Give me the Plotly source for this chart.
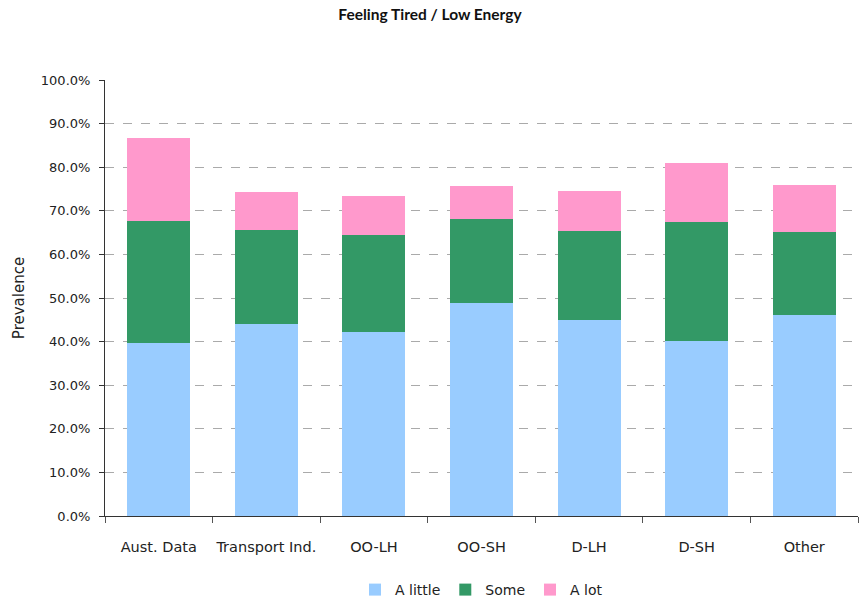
import plotly.graph_objects as go

categories = ["Aust. Data", "Transport Ind.", "OO-LH", "OO-SH", "D-LH", "D-SH", "Other"]
a_little = [0.397, 0.441, 0.422, 0.489, 0.450, 0.402, 0.461]
some = [0.280, 0.215, 0.223, 0.193, 0.204, 0.273, 0.191]
a_lot = [0.191, 0.088, 0.088, 0.076, 0.092, 0.134, 0.108]

series = [("A little", a_little, "#99CCFF"), ("Some", some, "#339966"), ("A lot", a_lot, "#FF99CC")]

fig = go.Figure()
for name, vals, col in series:
    fig.add_trace(go.Bar(x=categories, y=vals, name=name, marker=dict(color=col, line=dict(width=0)),
                         hovertemplate="%{x}: %{y:.1%}<extra>" + name + "</extra>"))

font_family = "DejaVu Sans, sans-serif"
fig.update_layout(
    barmode="stack",
    bargap=0.415,
    width=860, height=606,
    margin=dict(l=105, r=2, t=80, b=90),
    paper_bgcolor="white", plot_bgcolor="white",
    font=dict(family=font_family, size=13, color="#222"),
    title=dict(text="<b>Feeling Tired / Low Energy</b>", x=0.5, xanchor="center", y=0.985, yanchor="top",
               font=dict(family="Lato, sans-serif", size=15.5, color="#111")),
    legend=dict(orientation="h", x=0.5, xanchor="center", yref="container", y=-0.012, yanchor="bottom",
                font=dict(size=14), traceorder="normal", itemwidth=30, tracegroupgap=0),
    xaxis=dict(showline=True, linecolor="#333", linewidth=1, ticks="outside", tickson="boundaries",
               ticklen=6, tickcolor="#555", showgrid=False, tickfont=dict(size=14.5), tickangle=0,
               automargin=False, ticklabelstandoff=18),
    yaxis=dict(range=[0, 1], dtick=0.1, tickformat=".1%", showline=True, linecolor="#333", linewidth=1,
               ticks="outside", ticklen=5, tickcolor="#333", showgrid=True, gridcolor="#AAAAAA",
               griddash="dash", gridwidth=1, tickfont=dict(size=13), automargin=False,
               ticklabelstandoff=6,
               title=dict(text="Prevalence", font=dict(size=15), standoff=12)),
)

fig.write_html("out.html", post_script="document.body.style.margin='0';",
               config={"displayModeBar": False})
